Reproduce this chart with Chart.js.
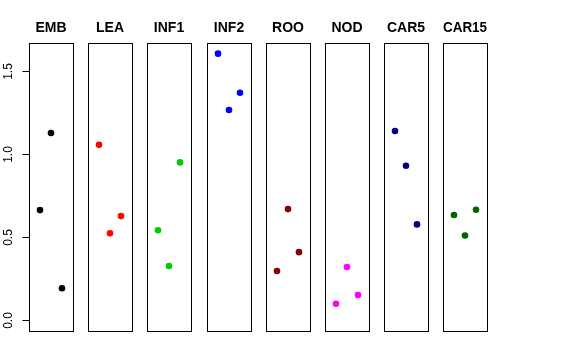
<!DOCTYPE html>
<html>
<head>
<meta charset="utf-8">
<script src="https://cdn.jsdelivr.net/npm/chart.js@4.4.1/dist/chart.umd.min.js"></script>
<style>
  body { margin: 0; background: #fff; width: 576px; height: 360px; position: relative; overflow: hidden; }
  canvas { position: absolute; top: 0; }
</style>
</head>
<body>
<script>
// groups, one panel each
const groups = ['EMB', 'LEA', 'INF1', 'INF2', 'ROO', 'NOD', 'CAR5', 'CAR15'];
const groupColors = ['#000000', '#FF0000', '#00CD00', '#0000FF', '#8B0000', '#FF00FF', '#00008B', '#006400'];
const positions = [1, 2, 3];

// values
const embValues = [0.663, 1.127, 0.193];
const leaValues = [1.056, 0.524, 0.627];
const inf1Values = [0.542, 0.327, 0.950];
const inf2Values = [1.604, 1.265, 1.369];
const rooValues = [0.297, 0.669, 0.410];
const nodValues = [0.100, 0.321, 0.152];
const car5Values = [1.139, 0.930, 0.577];
const car15Values = [0.634, 0.510, 0.665];
const allValues = [embValues, leaValues, inf1Values, inf2Values, rooValues, nodValues, car5Values, car15Values];

const yTicks = [0, 0.5, 1.0, 1.5];
const yTickLabels = ['0.0', '0.5', '1.0', '1.5'];

// shared y range like R: 0..max, padded by 4%
const yTop = Math.max(...allValues.flat());
const yPad = 0.04 * yTop;

const boxLefts = [29, 88, 147, 207, 266, 325, 384, 443];
const boxWidth = 44;
const fontFam = '"Liberation Sans", Arial, Helvetica, sans-serif';

const boxPlugin = {
  id: 'box',
  afterDraw(chart) {
    const { ctx, chartArea: a } = chart;
    ctx.save();
    ctx.strokeStyle = '#000';
    ctx.lineWidth = 1;
    ctx.strokeRect(Math.round(a.left) + 0.5, Math.round(a.top) + 0.5,
                   Math.round(a.right - a.left), Math.round(a.bottom - a.top));
    ctx.restore();
  }
};

const yAxisPlugin = {
  id: 'rAxis',
  afterDraw(chart) {
    const { ctx, chartArea: a } = chart;
    const ys = chart.scales.y;
    const x0 = Math.round(a.left) + 0.5;
    ctx.save();
    ctx.strokeStyle = '#000';
    ctx.fillStyle = '#000';
    ctx.lineWidth = 1;
    ctx.beginPath();
    ctx.moveTo(x0, Math.round(ys.getPixelForValue(yTicks[0])) + 0.5);
    ctx.lineTo(x0, Math.round(ys.getPixelForValue(yTicks[yTicks.length - 1])) + 0.5);
    ctx.stroke();
    ctx.font = '12px ' + fontFam;
    ctx.textAlign = 'center';
    ctx.textBaseline = 'middle';
    yTicks.forEach((t, i) => {
      const y = Math.round(ys.getPixelForValue(t)) + 0.5;
      ctx.beginPath();
      ctx.moveTo(x0 - 7, y);
      ctx.lineTo(x0, y);
      ctx.stroke();
      ctx.save();
      ctx.translate(x0 - 21, y);
      ctx.rotate(-Math.PI / 2);
      ctx.fillText(yTickLabels[i], 0, 0);
      ctx.restore();
    });
    ctx.restore();
  }
};

groups.forEach((name, g) => {
  const first = g === 0;
  const padLeft = first ? boxLefts[0] : 7;
  const padRight = 8;
  const cv = document.createElement('canvas');
  cv.width = padLeft + boxWidth + padRight;
  cv.height = 360;
  cv.style.left = (boxLefts[g] - padLeft) + 'px';
  document.body.appendChild(cv);

  new Chart(cv.getContext('2d'), {
    type: 'scatter',
    data: {
      datasets: [{
        data: allValues[g].map((v, i) => ({ x: positions[i], y: v })),
        backgroundColor: groupColors[g],
        borderColor: groupColors[g],
        pointRadius: 3.3,
        pointBorderWidth: 0
      }]
    },
    options: {
      responsive: false,
      animation: false,
      layout: { padding: { left: padLeft, right: padRight, top: 0, bottom: 29 } },
      scales: {
        x: { type: 'linear', display: false, min: 0, max: 4 },
        y: { display: false, min: -yPad, max: yTop + yPad }
      },
      plugins: {
        legend: { display: false },
        tooltip: { enabled: false },
        title: {
          display: true,
          text: name,
          color: '#000',
          font: { family: fontFam, size: 14, weight: 'bold' },
          padding: { top: 20.2, bottom: 6 }
        }
      }
    },
    plugins: first ? [boxPlugin, yAxisPlugin] : [boxPlugin]
  });
});
</script>
</body>
</html>
